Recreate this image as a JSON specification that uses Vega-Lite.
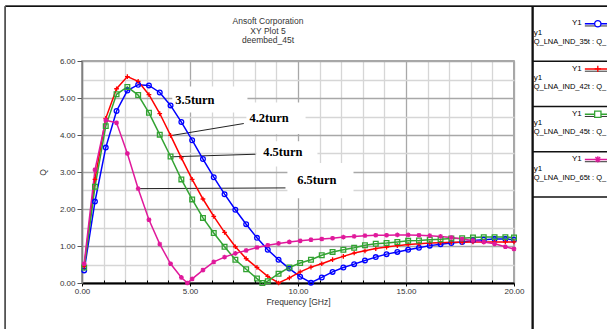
{
  "$schema": "https://vega.github.io/schema/vega-lite/v6.json",
  "width": 432,
  "height": 222,
  "autosize": {"type": "none"},
  "padding": {"left": 82, "top": 61, "right": 93, "bottom": 46},
  "background": "white",
  "config": {
    "font": "Liberation Sans",
    "view": {"stroke": "#8a8a8a", "strokeWidth": 1.5},
    "axis": {"labelFont": "Liberation Sans", "titleFont": "Liberation Sans", "labelFontSize": 8, "titleFontSize": 8.5, "titleFontWeight": "normal", "labelColor": "#333", "titleColor": "#333", "labelFlush": false, "labelOverlap": false}
  },
  "title": {
    "text": ["Ansoft Corporation", "XY Plot 5", "deembed_45t"],
    "font": "Liberation Sans", "fontSize": 8.5, "fontWeight": "normal", "color": "#333",
    "lineHeight": 9.3, "anchor": "middle", "baseline": "bottom", "dx": -30, "offset": -48, "frame": "group"
  },
  "datasets": {
    "curves": [
      {"s":"35t","f":0.1,"q":0.34},{"s":"35t","f":0.6,"q":2.2},{"s":"35t","f":1.1,"q":3.66},{"s":"35t","f":1.6,"q":4.65},{"s":"35t","f":2.1,"q":5.2},{"s":"35t","f":2.6,"q":5.36},{"s":"35t","f":3.1,"q":5.34},{"s":"35t","f":3.6,"q":5.15},{"s":"35t","f":4.1,"q":4.8},{"s":"35t","f":4.6,"q":4.35},{"s":"35t","f":5.1,"q":3.86},{"s":"35t","f":5.6,"q":3.35},{"s":"35t","f":6.1,"q":2.86},{"s":"35t","f":6.6,"q":2.4},{"s":"35t","f":7.1,"q":1.98},{"s":"35t","f":7.6,"q":1.59},{"s":"35t","f":8.1,"q":1.22},{"s":"35t","f":8.6,"q":0.9},{"s":"35t","f":9.1,"q":0.63},{"s":"35t","f":9.6,"q":0.39},{"s":"35t","f":10.1,"q":0.17},{"s":"35t","f":10.6,"q":0.01},{"s":"35t","f":11.1,"q":0.15},{"s":"35t","f":11.6,"q":0.3},{"s":"35t","f":12.1,"q":0.42},{"s":"35t","f":12.6,"q":0.51},{"s":"35t","f":13.1,"q":0.61},{"s":"35t","f":13.6,"q":0.7},{"s":"35t","f":14.1,"q":0.78},{"s":"35t","f":14.6,"q":0.84},{"s":"35t","f":15.1,"q":0.9},{"s":"35t","f":15.6,"q":0.95},{"s":"35t","f":16.1,"q":1.01},{"s":"35t","f":16.6,"q":1.05},{"s":"35t","f":17.1,"q":1.08},{"s":"35t","f":17.6,"q":1.11},{"s":"35t","f":18.1,"q":1.15},{"s":"35t","f":18.6,"q":1.17},{"s":"35t","f":19.1,"q":1.19},{"s":"35t","f":19.6,"q":1.19},{"s":"35t","f":20,"q":1.17},
      {"s":"42t","f":0.1,"q":0.45},{"s":"42t","f":0.6,"q":2.8},{"s":"42t","f":1.1,"q":4.45},{"s":"42t","f":1.6,"q":5.25},{"s":"42t","f":2.1,"q":5.58},{"s":"42t","f":2.6,"q":5.45},{"s":"42t","f":3.1,"q":5.09},{"s":"42t","f":3.6,"q":4.58},{"s":"42t","f":4.1,"q":3.99},{"s":"42t","f":4.6,"q":3.38},{"s":"42t","f":5.1,"q":2.8},{"s":"42t","f":5.6,"q":2.27},{"s":"42t","f":6.1,"q":1.8},{"s":"42t","f":6.6,"q":1.37},{"s":"42t","f":7.1,"q":0.98},{"s":"42t","f":7.6,"q":0.66},{"s":"42t","f":8.1,"q":0.42},{"s":"42t","f":8.6,"q":0.18},{"s":"42t","f":9.1,"q":0.0},{"s":"42t","f":9.6,"q":0.14},{"s":"42t","f":10.1,"q":0.3},{"s":"42t","f":10.6,"q":0.43},{"s":"42t","f":11.1,"q":0.52},{"s":"42t","f":11.6,"q":0.63},{"s":"42t","f":12.1,"q":0.72},{"s":"42t","f":12.6,"q":0.81},{"s":"42t","f":13.1,"q":0.87},{"s":"42t","f":13.6,"q":0.93},{"s":"42t","f":14.1,"q":0.97},{"s":"42t","f":14.6,"q":1.01},{"s":"42t","f":15.1,"q":1.04},{"s":"42t","f":15.6,"q":1.06},{"s":"42t","f":16.1,"q":1.08},{"s":"42t","f":16.6,"q":1.09},{"s":"42t","f":17.1,"q":1.1},{"s":"42t","f":17.6,"q":1.1},{"s":"42t","f":18.1,"q":1.11},{"s":"42t","f":18.6,"q":1.11},{"s":"42t","f":19.1,"q":1.11},{"s":"42t","f":19.6,"q":1.11},{"s":"42t","f":20,"q":1.11},
      {"s":"45t","f":0.1,"q":0.42},{"s":"45t","f":0.6,"q":2.6},{"s":"45t","f":1.1,"q":4.24},{"s":"45t","f":1.6,"q":5.1},{"s":"45t","f":2.1,"q":5.3},{"s":"45t","f":2.6,"q":5.08},{"s":"45t","f":3.1,"q":4.6},{"s":"45t","f":3.6,"q":4.01},{"s":"45t","f":4.1,"q":3.42},{"s":"45t","f":4.6,"q":2.8},{"s":"45t","f":5.1,"q":2.26},{"s":"45t","f":5.6,"q":1.76},{"s":"45t","f":6.1,"q":1.35},{"s":"45t","f":6.6,"q":0.98},{"s":"45t","f":7.1,"q":0.63},{"s":"45t","f":7.6,"q":0.37},{"s":"45t","f":8.1,"q":0.12},{"s":"45t","f":8.35,"q":0.0},{"s":"45t","f":8.6,"q":0.05},{"s":"45t","f":9.1,"q":0.25},{"s":"45t","f":9.6,"q":0.42},{"s":"45t","f":10.1,"q":0.54},{"s":"45t","f":10.6,"q":0.63},{"s":"45t","f":11.1,"q":0.75},{"s":"45t","f":11.6,"q":0.84},{"s":"45t","f":12.1,"q":0.9},{"s":"45t","f":12.6,"q":0.95},{"s":"45t","f":13.1,"q":1.02},{"s":"45t","f":13.6,"q":1.06},{"s":"45t","f":14.1,"q":1.08},{"s":"45t","f":14.6,"q":1.11},{"s":"45t","f":15.1,"q":1.14},{"s":"45t","f":15.6,"q":1.15},{"s":"45t","f":16.1,"q":1.17},{"s":"45t","f":16.6,"q":1.18},{"s":"45t","f":17.1,"q":1.2},{"s":"45t","f":17.6,"q":1.21},{"s":"45t","f":18.1,"q":1.23},{"s":"45t","f":18.6,"q":1.24},{"s":"45t","f":19.1,"q":1.24},{"s":"45t","f":19.6,"q":1.24},{"s":"45t","f":20,"q":1.23},
      {"s":"65t","f":0.1,"q":0.52},{"s":"65t","f":0.6,"q":3.06},{"s":"65t","f":1.1,"q":4.4},{"s":"65t","f":1.6,"q":4.33},{"s":"65t","f":2.1,"q":3.5},{"s":"65t","f":2.6,"q":2.55},{"s":"65t","f":3.1,"q":1.71},{"s":"65t","f":3.6,"q":1.05},{"s":"65t","f":4.1,"q":0.52},{"s":"65t","f":4.6,"q":0.15},{"s":"65t","f":4.88,"q":0.0},{"s":"65t","f":5.1,"q":0.11},{"s":"65t","f":5.6,"q":0.35},{"s":"65t","f":6.1,"q":0.57},{"s":"65t","f":6.6,"q":0.7},{"s":"65t","f":7.1,"q":0.8},{"s":"65t","f":7.6,"q":0.88},{"s":"65t","f":8.1,"q":0.96},{"s":"65t","f":8.6,"q":1.02},{"s":"65t","f":9.1,"q":1.07},{"s":"65t","f":9.6,"q":1.11},{"s":"65t","f":10.1,"q":1.14},{"s":"65t","f":10.6,"q":1.17},{"s":"65t","f":11.1,"q":1.19},{"s":"65t","f":11.6,"q":1.21},{"s":"65t","f":12.1,"q":1.24},{"s":"65t","f":12.6,"q":1.26},{"s":"65t","f":13.1,"q":1.28},{"s":"65t","f":13.6,"q":1.29},{"s":"65t","f":14.1,"q":1.29},{"s":"65t","f":14.6,"q":1.3},{"s":"65t","f":15.1,"q":1.3},{"s":"65t","f":15.6,"q":1.29},{"s":"65t","f":16.1,"q":1.28},{"s":"65t","f":16.6,"q":1.26},{"s":"65t","f":17.1,"q":1.23},{"s":"65t","f":17.6,"q":1.19},{"s":"65t","f":18.1,"q":1.15},{"s":"65t","f":18.6,"q":1.11},{"s":"65t","f":19.1,"q":1.06},{"s":"65t","f":19.6,"q":0.98},{"s":"65t","f":20,"q":0.92}
    ],
    "boxes": [
      {"f":4.18,"f2":7.66,"q":4.61,"q2":5.31},
      {"f":7.61,"f2":10.35,"q":4.03,"q2":4.88},
      {"f":8.08,"f2":10.9,"q":3.15,"q2":3.83},
      {"f":9.51,"f2":12.57,"q":2.29,"q2":3.24}
    ],
    "leaders": [
      {"f":4.19,"q":3.99,"f2":7.49,"q2":4.31},
      {"f":4.09,"q":3.41,"f2":8.03,"q2":3.48},
      {"f":2.62,"q":2.55,"f2":9.42,"q2":2.57}
    ],
    "notes": [
      {"f":4.32,"q":4.94,"label":"3.5turn"},
      {"f":7.75,"q":4.45,"label":"4.2turn"},
      {"f":8.39,"q":3.54,"label":"4.5turn"},
      {"f":9.96,"q":2.78,"label":"6.5turn"}
    ],
    "legend": [
      {"s":"35t","label":"Q_LNA_IND_35t : Q_"},
      {"s":"42t","label":"Q_LNA_IND_42t : Q_"},
      {"s":"45t","label":"Q_LNA_IND_45t : Q_"},
      {"s":"65t","label":"Q_LNA_IND_65t : Q_"}
    ]
  },
  "layer": [
    {
      "layer": [
        {
          "data": {"name": "boxes"},
          "mark": {"type": "rect", "fill": "white", "stroke": null},
          "encoding": {
            "x": {"field": "f", "type": "quantitative", "scale": {"domain": [0, 20], "nice": false, "zero": false},
              "axis": {"orient": "bottom", "values": [1,2,3,4,6,7,8,9,11,12,13,14,16,17,18,19], "labels": false, "domain": false, "ticks": true, "tickSize": -3, "tickColor": "#000", "title": null, "grid": true, "gridColor": "#d6d6d6", "gridWidth": 1.3}},
            "x2": {"field": "f2"},
            "y": {"field": "q", "type": "quantitative", "scale": {"domain": [0, 6], "nice": false, "zero": false},
              "axis": {"orient": "left", "values": [0.5,1.5,2.5,3.5,4.5,5.5], "labels": false, "domain": false, "ticks": false, "title": null, "grid": true, "gridColor": "#d6d6d6", "gridWidth": 1.3}},
            "y2": {"field": "q2"}
          }
        },
        {
          "data": {"name": "leaders"},
          "mark": {"type": "rule", "color": "#222", "strokeWidth": 1},
          "encoding": {
            "x": {"field": "f", "type": "quantitative", "scale": {"domain": [0, 20], "nice": false, "zero": false},
              "axis": {"orient": "bottom", "values": [0,5,10,15,20], "format": ".2f", "labelOverlap": false, "labelFlush": false, "title": "Frequency [GHz]", "grid": true, "gridColor": "#a8a8a8", "gridWidth": 1.3, "domainColor": "#000", "domainWidth": 2, "tickColor": "#000", "tickSize": 3, "labelPadding": 1, "titlePadding": 2}},
            "x2": {"field": "f2"},
            "y": {"field": "q", "type": "quantitative", "scale": {"domain": [0, 6], "nice": false, "zero": false},
              "axis": {"orient": "left", "values": [0,1,2,3,4,5,6], "format": ".2f", "labelOverlap": false, "labelFlush": false, "title": "Q", "grid": true, "gridColor": "#a8a8a8", "gridWidth": 1.3, "domainColor": "#808080", "domainWidth": 1.5, "tickColor": "#555", "tickSize": 5, "labelPadding": 2, "titlePadding": 12}},
            "y2": {"field": "q2"}
          }
        },
        {
          "data": {"name": "curves"},
          "mark": {"type": "line", "strokeWidth": 1.5},
          "encoding": {
            "x": {"field": "f", "type": "quantitative", "scale": {"domain": [0, 20], "nice": false, "zero": false}, "axis": null},
            "y": {"field": "q", "type": "quantitative", "scale": {"domain": [0, 6], "nice": false, "zero": false}, "axis": null},
            "color": {"field": "s", "type": "nominal", "legend": null, "scale": {"domain": ["35t","42t","45t","65t"], "range": ["#0000ff","#ff0000","#33a333","#e0199b"]}},
            "order": {"field": "f", "type": "quantitative"}
          }
        },
        {
          "data": {"name": "curves"},
          "mark": {"type": "point", "filled": false, "strokeWidth": 1.3, "size": 22, "opacity": 1},
          "encoding": {
            "x": {"field": "f", "type": "quantitative", "scale": {"domain": [0, 20], "nice": false, "zero": false}, "axis": null},
            "y": {"field": "q", "type": "quantitative", "scale": {"domain": [0, 6], "nice": false, "zero": false}, "axis": null},
            "color": {"field": "s", "type": "nominal", "legend": null, "scale": {"domain": ["35t","42t","45t","65t"], "range": ["#0000ff","#ff0000","#33a333","#e0199b"]}},
            "shape": {"field": "s", "type": "nominal", "legend": null, "scale": {"domain": ["35t","42t","45t","65t"], "range": ["circle","M-1,0L1,0M0,-1L0,1","square","M-1,0L1,0M0,-1L0,1M-0.75,-0.75L0.75,0.75M-0.75,0.75L0.75,-0.75"]}}
          }
        },
        {
          "data": {"name": "notes"},
          "mark": {"type": "text", "font": "Liberation Serif", "fontWeight": "bold", "fontSize": 12.5, "align": "left", "baseline": "middle", "color": "#000"},
          "encoding": {
            "x": {"field": "f", "type": "quantitative", "scale": {"domain": [0, 20], "nice": false, "zero": false}, "axis": null},
            "y": {"field": "q", "type": "quantitative", "scale": {"domain": [0, 6], "nice": false, "zero": false}, "axis": null},
            "text": {"field": "label"}
          }
        },
        {
          "data": {"name": "legend"},
          "mark": {"type": "rule", "color": "#111", "strokeWidth": 1.3},
          "encoding": {
            "x": {"datum": -3.55, "type": "quantitative", "scale": {"domain": [0, 20], "nice": false, "zero": false}, "axis": null},
            "x2": {"datum": 25},
            "y": {"datum": 7.478, "type": "quantitative", "scale": {"domain": [0, 6], "nice": false, "zero": false}, "axis": null}
          }
        },
        {
          "data": {"name": "legend"},
          "mark": {"type": "rule", "color": "#555", "strokeWidth": 1.3},
          "encoding": {
            "x": {"datum": -3.55, "type": "quantitative", "scale": {"domain": [0, 20], "nice": false, "zero": false}, "axis": null},
            "y": {"datum": 7.478, "type": "quantitative", "scale": {"domain": [0, 6], "nice": false, "zero": false}, "axis": null},
            "y2": {"datum": -1.4}
          }
        },
        {
          "data": {"name": "legend"},
          "mark": {"type": "rule", "color": "#111", "strokeWidth": 1.5},
          "encoding": {
            "x": {"datum": 20.86, "type": "quantitative", "scale": {"domain": [0, 20], "nice": false, "zero": false}, "axis": null},
            "y": {"datum": 7.478, "type": "quantitative", "scale": {"domain": [0, 6], "nice": false, "zero": false}, "axis": null},
            "y2": {"datum": -1.4}
          }
        }
      ],
      "resolve": {"axis": {"x": "independent", "y": "independent"}}
    },
    {
      "data": {"name": "legend"},
      "layer": [
        {
          "mark": {"type": "rule", "color": "#111", "strokeWidth": 1.3},
          "encoding": {
            "x": {"datum": 20.86, "type": "quantitative", "scale": {"domain": [0, 20], "nice": false, "zero": false}, "axis": null},
            "x2": {"datum": 25},
            "y": {"field": "s", "type": "nominal", "bandPosition": 1, "axis": null, "scale": {"domain": ["35t","42t","45t","65t"], "range": [-45, 136], "paddingInner": 0, "paddingOuter": 0}}
          }
        },
        {
          "mark": {"type": "rule", "color": "#333", "strokeWidth": 1},
          "encoding": {
            "x": {"datum": 23.28, "type": "quantitative", "scale": {"domain": [0, 20], "nice": false, "zero": false}, "axis": null},
            "x2": {"datum": 25},
            "y": {"field": "s", "type": "nominal", "bandPosition": 0.22, "axis": null, "scale": {"domain": ["35t","42t","45t","65t"], "range": [-45, 136], "paddingInner": 0, "paddingOuter": 0}}
          }
        },
        {
          "mark": {"type": "rule", "strokeWidth": 1.5},
          "encoding": {
            "x": {"datum": 23.28, "type": "quantitative", "scale": {"domain": [0, 20], "nice": false, "zero": false}, "axis": null},
            "x2": {"datum": 25},
            "y": {"field": "s", "type": "nominal", "bandPosition": 0.17, "axis": null, "scale": {"domain": ["35t","42t","45t","65t"], "range": [-45, 136], "paddingInner": 0, "paddingOuter": 0}},
            "color": {"field": "s", "type": "nominal", "legend": null, "scale": {"domain": ["35t","42t","45t","65t"], "range": ["#0000ff","#ff0000","#33a333","#e0199b"]}}
          }
        },
        {
          "mark": {"type": "point", "filled": false, "fill": "white", "strokeWidth": 1.3, "size": 40, "opacity": 1},
          "encoding": {
            "x": {"datum": 23.88, "type": "quantitative", "scale": {"domain": [0, 20], "nice": false, "zero": false}, "axis": null},
            "y": {"field": "s", "type": "nominal", "bandPosition": 0.17, "axis": null, "scale": {"domain": ["35t","42t","45t","65t"], "range": [-45, 136], "paddingInner": 0, "paddingOuter": 0}},
            "color": {"field": "s", "type": "nominal", "legend": null, "scale": {"domain": ["35t","42t","45t","65t"], "range": ["#0000ff","#ff0000","#33a333","#e0199b"]}},
            "shape": {"field": "s", "type": "nominal", "legend": null, "scale": {"domain": ["35t","42t","45t","65t"], "range": ["circle","M-1,0L1,0M0,-1L0,1","square","M-1,0L1,0M0,-1L0,1M-0.75,-0.75L0.75,0.75M-0.75,0.75L0.75,-0.75"]}}
          }
        },
        {
          "mark": {"type": "text", "align": "right", "baseline": "middle", "fontSize": 8, "font": "Liberation Sans", "color": "#000"},
          "encoding": {
            "x": {"datum": 23.14, "type": "quantitative", "scale": {"domain": [0, 20], "nice": false, "zero": false}, "axis": null},
            "y": {"field": "s", "type": "nominal", "bandPosition": 0.165, "axis": null, "scale": {"domain": ["35t","42t","45t","65t"], "range": [-45, 136], "paddingInner": 0, "paddingOuter": 0}},
            "text": {"value": "Y1"}
          }
        },
        {
          "mark": {"type": "text", "align": "left", "baseline": "middle", "fontSize": 8, "font": "Liberation Sans", "color": "#000"},
          "encoding": {
            "x": {"datum": 20.91, "type": "quantitative", "scale": {"domain": [0, 20], "nice": false, "zero": false}, "axis": null},
            "y": {"field": "s", "type": "nominal", "bandPosition": 0.375, "axis": null, "scale": {"domain": ["35t","42t","45t","65t"], "range": [-45, 136], "paddingInner": 0, "paddingOuter": 0}},
            "text": {"value": "y1"}
          }
        },
        {
          "mark": {"type": "text", "align": "left", "baseline": "middle", "fontSize": 7.5, "font": "Liberation Sans", "color": "#000"},
          "encoding": {
            "x": {"datum": 20.91, "type": "quantitative", "scale": {"domain": [0, 20], "nice": false, "zero": false}, "axis": null},
            "y": {"field": "s", "type": "nominal", "bandPosition": 0.57, "axis": null, "scale": {"domain": ["35t","42t","45t","65t"], "range": [-45, 136], "paddingInner": 0, "paddingOuter": 0}},
            "text": {"field": "label"}
          }
        }
      ]
    }
  ],
  "resolve": {"scale": {"x": "independent", "y": "independent"}, "axis": {"x": "independent", "y": "independent"}}
}
